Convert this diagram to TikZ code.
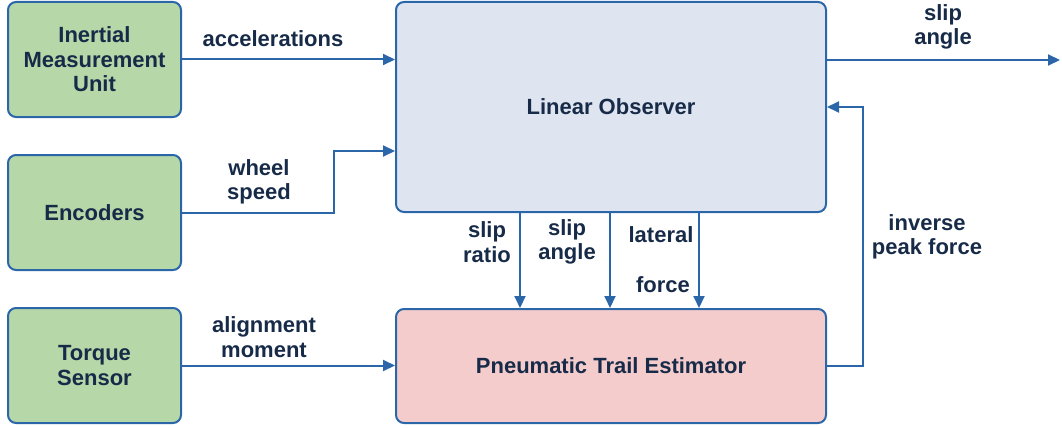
\documentclass[tikz,border=0pt]{standalone}
\usepackage{fontspec}
\setmainfont{Liberation Sans}
\usetikzlibrary{arrows.meta}
\definecolor{sensorfill}{HTML}{B6D7A8}
\definecolor{obsfill}{HTML}{DEE5F0}
\definecolor{estfill}{HTML}{F4CCCC}
\definecolor{edgeblue}{HTML}{2A66A8}
\definecolor{txtnavy}{HTML}{172B48}
\begin{document}
\begin{tikzpicture}[
    x=1pt, y=-1pt,
    every node/.style={font=\bfseries\fontsize{22}{24.5}\selectfont, align=center, text=txtnavy},
    box/.style={rectangle, draw=edgeblue, line width=2pt, rounded corners=8pt, inner sep=4pt},
    sensor/.style={box, fill=sensorfill, minimum width=173pt, minimum height=115pt},
    arr/.style={-{Triangle[length=12pt,width=11pt]}, line width=2pt, edgeblue}
]
\useasboundingbox (0,0) rectangle (1062,428);
\node[sensor] (imu) at (94.5, 59.5)  {Inertial\\Measurement\\Unit};
\node[sensor] (enc) at (94.5, 212.5) {Encoders};
\node[sensor] (trq) at (94.5, 365.5) {Torque\\Sensor};
\node[box, fill=obsfill, minimum width=430pt, minimum height=210pt] (lo)  at (611, 107) {Linear Observer};
\node[box, fill=estfill, minimum width=430pt, minimum height=114pt] (pte) at (611, 366) {Pneumatic Trail Estimator};
\coordinate (out) at (1060, 60);

% inputs
\draw[arr] (imu.east) -- (imu.east -| lo.west);
\draw[arr] (enc.east) -- ++(152,0) |- (lo.west |- 0,151);
\draw[arr] (trq.east) -- (trq.east -| pte.west);
\node (acc) at (273, 39) {accelerations};
\node (whl) at (259, 182) {wheel\\speed};
\node (alm) at (264, 337) {alignment\\moment};

% observer to estimator
\draw[arr] (lo.south -| 520,0) -- (pte.north -| 520,0);
\draw[arr] (lo.south -| 610,0) -- (pte.north -| 610,0);
\draw[arr] (lo.south -| 699,0) -- (pte.north -| 699,0);
\node (sr) at (487, 242) {slip\\ratio};
\node (sa) at (567, 242) {slip\\angle};
\node (lat) at (661, 235) {lateral};
\node (frc) at (663, 285) {force};

% output and feedback
\draw[arr] (lo.east |- out) -- (out);
\node (sao) at (943, 27) {slip\\angle};
\draw[arr] (pte.east) -- ++(36,0) |- (lo.east);
\node (ipf) at (927, 237) {inverse\\peak force};
\end{tikzpicture}
\end{document}
